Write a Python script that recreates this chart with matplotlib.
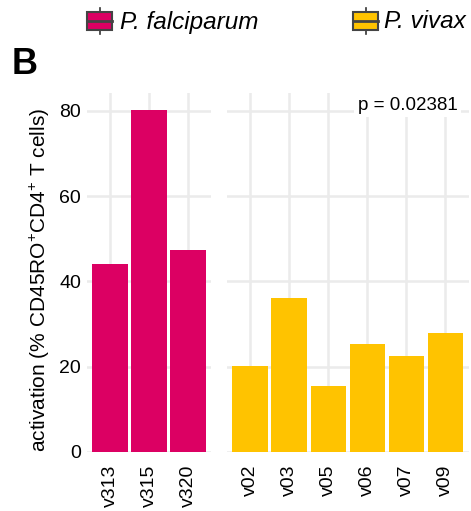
import matplotlib
matplotlib.use('Agg')
import matplotlib.pyplot as plt
from matplotlib.patches import Rectangle
from matplotlib.lines import Line2D

plt.rcParams['font.family'] = ['Liberation Sans', 'DejaVu Sans']
plt.rcParams['mathtext.fontset'] = 'custom'
plt.rcParams['mathtext.rm'] = 'Liberation Sans'

# ── data ──────────────────────────────────────────────
pf_ids = ['v313', 'v315', 'v320']
pf_vals = [44.2, 80.2, 47.5]
pv_ids = ['v02', 'v03', 'v05', 'v06', 'v07', 'v09']
pv_vals = [20.2, 36.2, 15.5, 25.4, 22.6, 27.8]
species = ['P. falciparum', 'P. vivax']
p_label = 'p = 0.02381'

C_PF, C_PV = '#DC0063', '#FFC300'
GRID = '#EBEBEB'

W, H = 471, 511
fig = plt.figure(figsize=(W / 100, H / 100), dpi=100)


def px(x0, y0, w, h):
    # rectangle in pixel coords (top-left origin) -> figure fraction
    return [x0 / W, 1 - (y0 + h) / H, w / W, h / H]


ymax = max(pf_vals) * 1.05
ax1 = fig.add_axes(px(86.6, 93, 124.8, 359))
ax2 = fig.add_axes(px(226.6, 93, 242, 359))

for ax, ids, vals, col in [(ax1, pf_ids, pf_vals, C_PF), (ax2, pv_ids, pv_vals, C_PV)]:
    xs = list(range(len(ids)))
    ax.bar(xs, vals, width=0.9, color=col, zorder=2)
    ax.set_xlim(-0.6, len(ids) - 0.4)
    ax.set_ylim(0, ymax)
    ax.set_xticks(xs)
    ax.set_xticklabels(ids, rotation=90, fontsize=14)
    ax.set_yticks([0, 20, 40, 60, 80])
    ax.grid(color=GRID, linewidth=1.8, zorder=0)
    ax.set_axisbelow(True)
    for s in ax.spines.values():
        s.set_visible(False)
    ax.tick_params(length=0, labelsize=14, colors='black')
    ax.tick_params(axis='x', pad=9)
    ax.tick_params(axis='y', pad=4)

ax2.set_yticklabels([])

ax2.text(0.955, 0.99, p_label, transform=ax2.transAxes, ha='right', va='top',
         fontsize=13.5, zorder=5,
         bbox=dict(facecolor='white', edgecolor='none', pad=2.5))

fig.text(40 / W, 1 - 280 / H, r'activation (% CD45RO$^{+}$CD4$^{+}$ T cells)',
         rotation=90, ha='center', va='center', fontsize=15)

fig.text(12 / W, 1 - 74 / H, 'B', fontsize=26, fontweight='bold',
         ha='left', va='baseline')

# ── legend with boxplot-style keys ───────────────────
lg = fig.add_axes([0, 0, 1, 1])
lg.set_xlim(0, W)
lg.set_ylim(H, 0)
lg.axis('off')
for (kx, tx), name, col in zip([(87, 120), (353, 384)], species, [C_PF, C_PV]):
    lg.add_line(Line2D([kx + 12.5, kx + 12.5], [8, 34], color='#333333', lw=1.2))
    lg.add_patch(Rectangle((kx, 12), 25, 18, facecolor=col, edgecolor='#444444', lw=1.5, zorder=3))
    lg.add_line(Line2D([kx, kx + 25], [21, 21], color='#444444', lw=2, zorder=4))
    lg.text(tx, 22, name, fontsize=17.5, style='italic', ha='left', va='center')

fig.savefig('out.png', dpi=100)
